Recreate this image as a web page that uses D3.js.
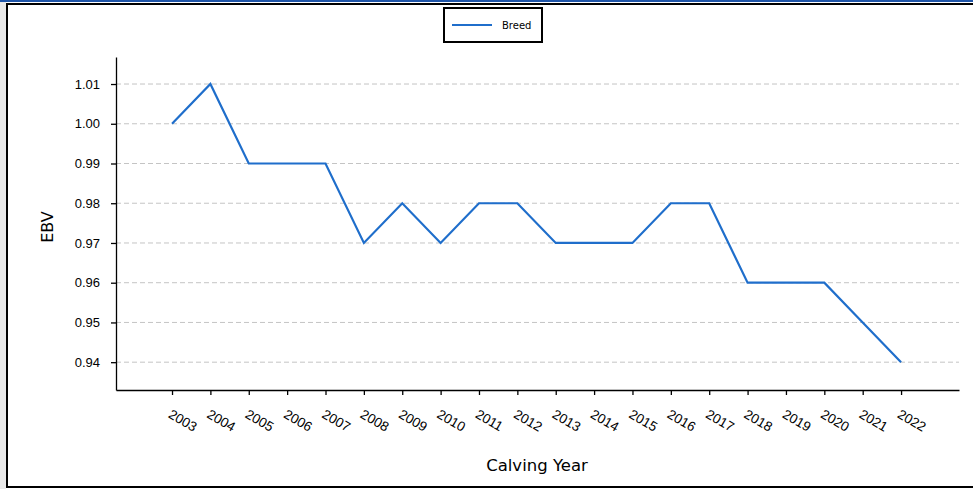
<!DOCTYPE html>
<html>
<head>
<meta charset="utf-8">
<script src="https://cdn.jsdelivr.net/npm/d3@7"></script>
<style>
body { margin: 0; background: #fff; }
svg { display: block; font-family: "DejaVu Sans", sans-serif; }
</style>
</head>
<body>
<script>
var years = [2003, 2004, 2005, 2006, 2007, 2008, 2009, 2010, 2011, 2012,
             2013, 2014, 2015, 2016, 2017, 2018, 2019, 2020, 2021, 2022];
var breed = [1.00, 1.01, 0.99, 0.99, 0.99, 0.97, 0.98, 0.97, 0.98, 0.98,
             0.97, 0.97, 0.97, 0.98, 0.98, 0.96, 0.96, 0.96, 0.95, 0.94];
var yTicks = [0.94, 0.95, 0.96, 0.97, 0.98, 0.99, 1.00, 1.01];
var seriesName = "Breed";

var width = 973, height = 489;
var margin = {top: 57, right: 14, bottom: 99, left: 116};

var svg = d3.select("body").append("svg")
    .attr("width", width)
    .attr("height", height);

// frame around the figure
svg.append("rect").attr("x", 0).attr("y", 0).attr("width", 6).attr("height", height).attr("fill", "#e8e8e8");
svg.append("rect").attr("x", 0).attr("y", 0).attr("width", width).attr("height", 2).attr("fill", "#1f55a8");
svg.append("rect").attr("x", 6).attr("y", 3).attr("width", width).attr("height", 2).attr("fill", "#000");
svg.append("rect").attr("x", 6).attr("y", 3).attr("width", 2).attr("height", 485).attr("fill", "#000");
svg.append("rect").attr("x", 6).attr("y", 486).attr("width", width).attr("height", 2).attr("fill", "#000");

var x = d3.scaleLinear()
    .domain([2001.54, 2023.51])
    .range([margin.left, width - margin.right]);
var y = d3.scaleLinear()
    .domain([0.9330, 1.0168])
    .range([height - margin.bottom, margin.top]);

// grid
svg.append("g")
    .selectAll("line")
    .data(yTicks)
    .enter().append("line")
    .attr("x1", margin.left)
    .attr("x2", width - margin.right)
    .attr("y1", d => y(d))
    .attr("y2", d => y(d))
    .attr("stroke", "#c4c4c4")
    .attr("stroke-width", 1)
    .attr("stroke-dasharray", "5,3");

// x axis
var gx = svg.append("g")
    .attr("transform", "translate(0," + (height - margin.bottom) + ")")
    .call(d3.axisBottom(x).tickValues(years).tickFormat(d3.format("d")).tickSize(5).tickSizeOuter(0));
gx.select(".domain").attr("stroke", "#000").attr("stroke-width", 1.3);
gx.selectAll(".tick line").attr("stroke", "#000").attr("stroke-width", 1.3);
gx.selectAll(".tick text")
    .attr("font-size", 13.5)
    .attr("fill", "#000")
    .attr("text-anchor", "start")
    .attr("dy", null)
    .attr("y", 0)
    .attr("transform", "translate(-5,27) rotate(30)");

// y axis
var gy = svg.append("g")
    .attr("transform", "translate(" + margin.left + ",0)")
    .call(d3.axisLeft(y).tickValues(yTicks).tickFormat(d3.format(".2f")).tickSize(5).tickSizeOuter(0));
gy.select(".domain").attr("stroke", "#000").attr("stroke-width", 1.3);
gy.selectAll(".tick line").attr("stroke", "#000").attr("stroke-width", 1.3);
gy.selectAll(".tick text")
    .attr("font-size", 13)
    .attr("fill", "#000")
    .attr("x", -16);

// line
var line = d3.line()
    .x((d, i) => x(years[i]))
    .y(d => y(d));
svg.append("path")
    .datum(breed)
    .attr("fill", "none")
    .attr("stroke", "#1f6ecb")
    .attr("stroke-width", 2.2)
    .attr("stroke-linejoin", "miter")
    .attr("d", line);

// axis labels
svg.append("text")
    .attr("x", 537)
    .attr("y", 471)
    .attr("text-anchor", "middle")
    .attr("font-size", 16.5)
    .text("Calving Year");
svg.append("text")
    .attr("transform", "translate(53,227) rotate(-90)")
    .attr("text-anchor", "middle")
    .attr("font-size", 16)
    .text("EBV");

// legend
var lg = svg.append("g");
lg.append("rect")
    .attr("x", 444).attr("y", 8)
    .attr("width", 98).attr("height", 34)
    .attr("fill", "#fff")
    .attr("stroke", "#000")
    .attr("stroke-width", 2);
lg.append("line")
    .attr("x1", 452).attr("x2", 492)
    .attr("y1", 25).attr("y2", 25)
    .attr("stroke", "#1f6ecb")
    .attr("stroke-width", 2.2);
lg.append("text")
    .attr("x", 502).attr("y", 29)
    .attr("font-size", 10)
    .text(seriesName);
</script>
</body>
</html>
